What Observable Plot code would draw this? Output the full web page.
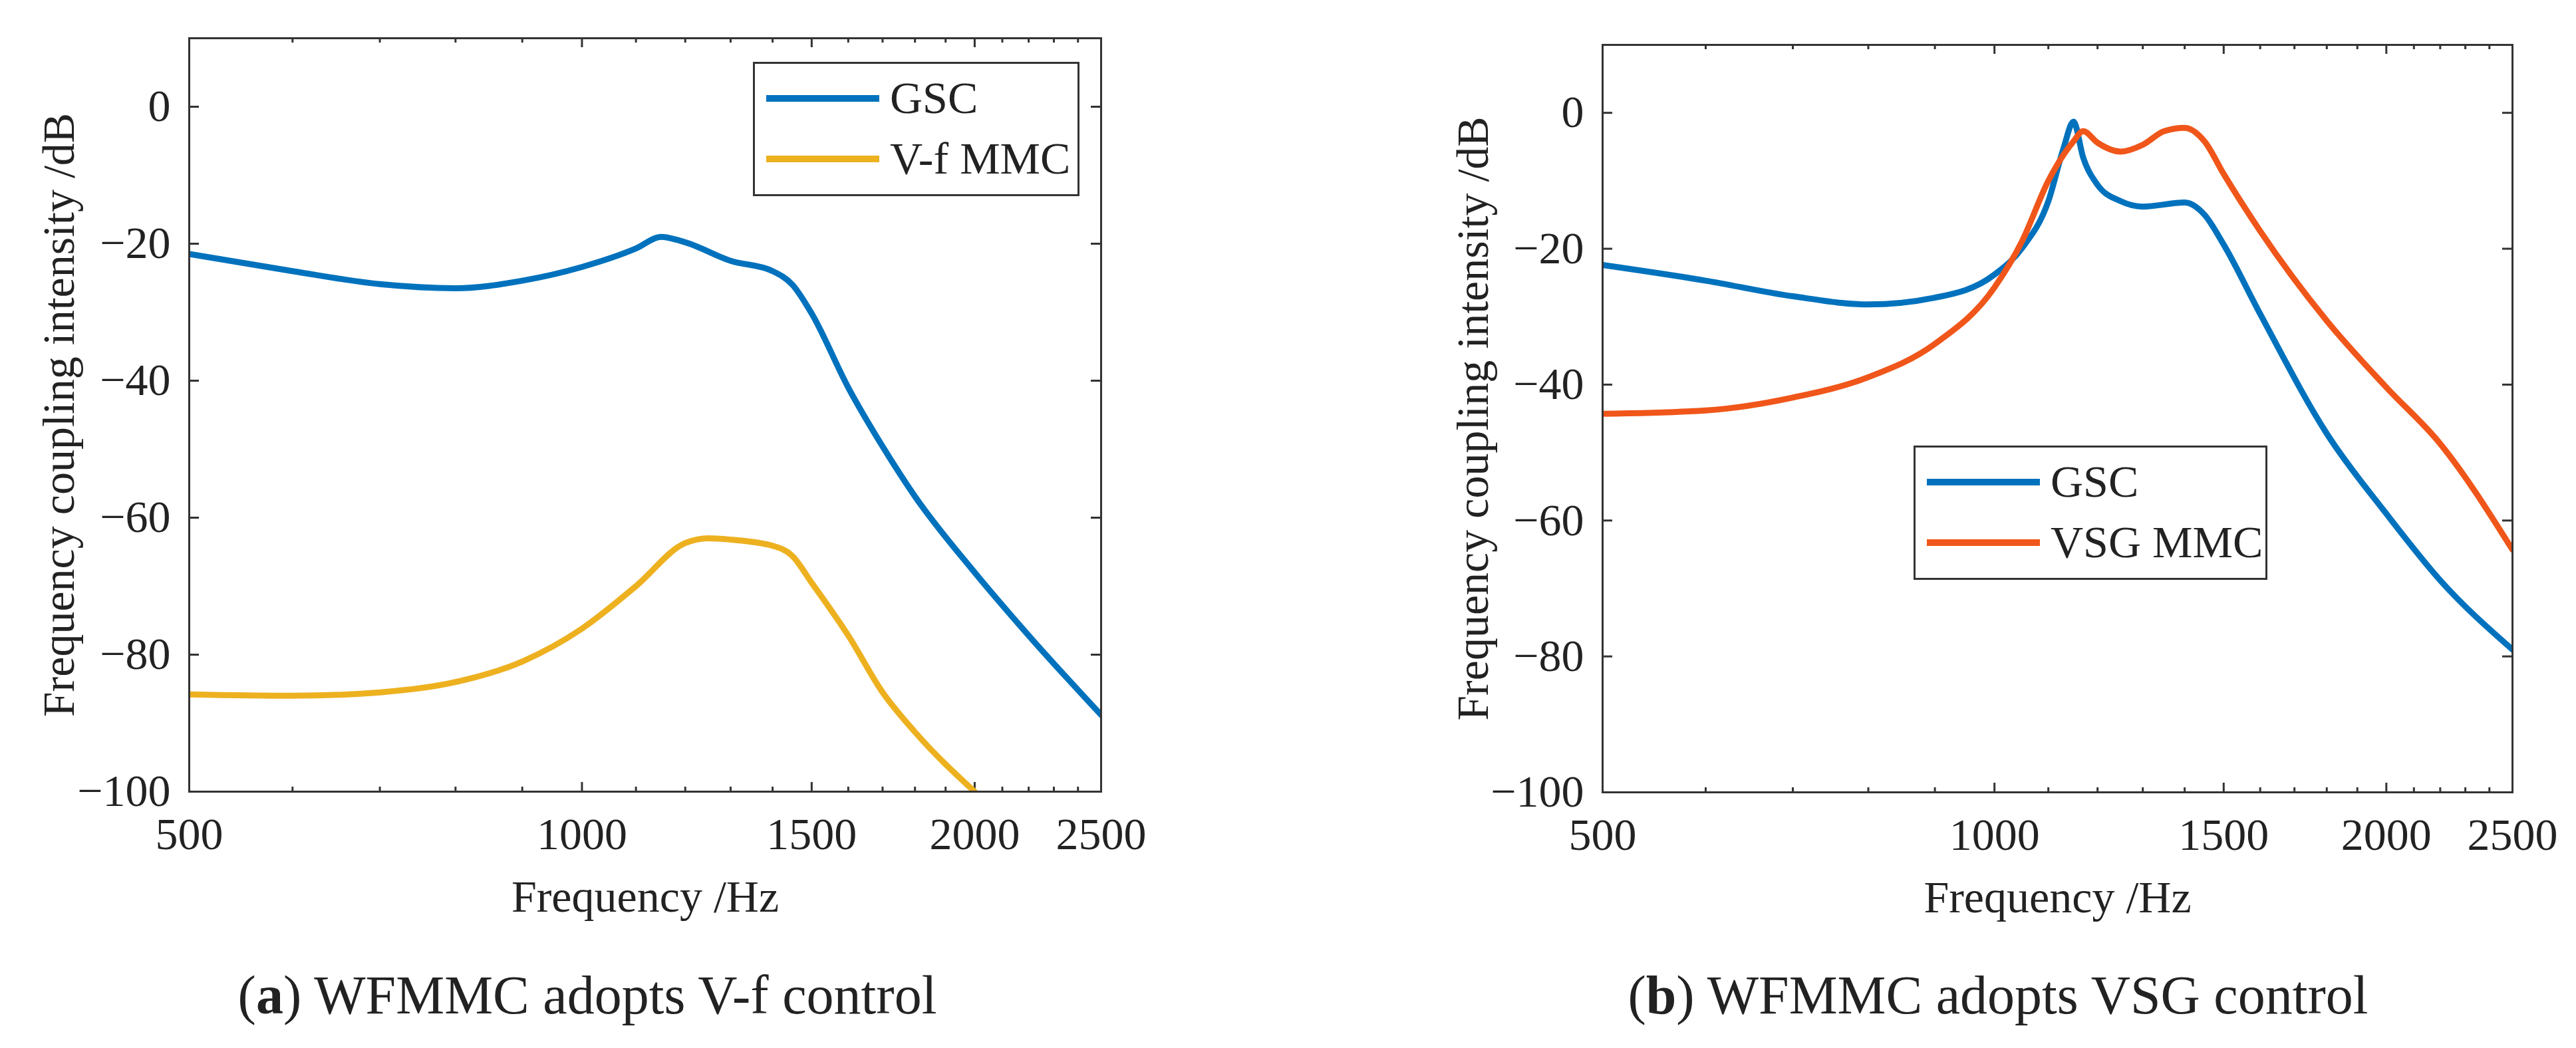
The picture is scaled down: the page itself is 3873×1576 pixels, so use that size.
<!DOCTYPE html>
<html><head><meta charset="utf-8">
<script src="https://cdn.jsdelivr.net/npm/d3@7"></script>
<script src="https://cdn.jsdelivr.net/npm/@observablehq/plot@0.6"></script>
<style>
body{margin:0;background:#fff;width:3873px;height:1576px;position:relative;overflow:hidden;font-family:"Liberation Serif",serif;color:#222}
.panel{position:absolute;top:0}
.leg{position:absolute;border:3px solid #333;background:#fff;font-size:68px}
.leg div{position:absolute;white-space:nowrap}
.leg span{position:absolute;height:10px}
.cap{position:absolute;font-size:82px;white-space:nowrap;transform:translateX(-50%);top:1450px}
</style></head><body>
<script>
const freqA = [500,600,700,800,900,1000,1100,1150,1200,1300,1400,1450,1500,1600,1700,1800,2000,2200,2500];
const gscA  = [-21.5,-24,-25.9,-26.5,-25.4,-23.4,-20.7,-19,-19.8,-22.5,-24,-26,-30.2,-41,-49.6,-56.9,-68,-77.2,-88.8];
const freqVf = [500,600,700,800,900,1000,1100,1200,1250,1300,1400,1450,1500,1600,1700,1800,2000];
const vfMMC = [-85.8,-86,-85.5,-84,-81,-76.2,-70,-63.7,-63,-63.2,-64.1,-65.6,-69.5,-77.2,-85.5,-91.3,-100];
const freqB = [500,600,700,800,900,1000,1050,1100,1130,1150,1170,1200,1250,1300,1400,1450,1500,1600,1800,2000,2200,2500];
const gscB  = [-22.4,-24.7,-27,-28.2,-27.2,-23.8,-19.9,-13,-5.2,-1.3,-6.6,-10.6,-13,-13.8,-13.2,-15,-19.4,-29.6,-47.2,-59,-68.8,-79];
const freqV = [500,600,700,800,900,1000,1050,1100,1150,1170,1200,1250,1300,1350,1400,1450,1500,1600,1800,2000,2200,2500];
const vsgMMC = [-44.3,-43.8,-41.9,-38.9,-34,-25.7,-18.9,-10,-4.2,-2.7,-4.4,-5.7,-4.7,-2.7,-2.2,-4.2,-9,-17.4,-30.6,-40.4,-48.7,-64.3];
const xMajor = [500,1000,1500,2000,2500];
const xMinor = [600,700,800,900,1100,1200,1300,1400,1600,1700,1800,1900,2100,2200,2300,2400];
const yTicks = [-100,-80,-60,-40,-20,0];
const BLUE="#0072BD", YEL="#EDB120", ORA="#F0561A";

function panel(series, m, offsetX){
  const plotW = 1936 - m.left - m.right, plotH = 1576 - m.top - m.bottom;
  const dbPerPx = 110/plotH;
  const xs = d3.scaleLog().domain([500,2500]).range([0,plotW]);
  const xAt = px => xs.invert(px);
  const marks = [];
  for (const [x, d] of [[xMajor,14],[xMinor,7]]) {
    marks.push(Plot.ruleX(x,{x:v=>v,y1:-100,y2:-100+d*dbPerPx,stroke:"#333",strokeWidth:3}));
    marks.push(Plot.ruleX(x,{x:v=>v,y1:10,y2:10-d*dbPerPx,stroke:"#333",strokeWidth:3}));
  }
  marks.push(Plot.ruleY(yTicks,{y:v=>v,x1:500,x2:xAt(15),stroke:"#333",strokeWidth:3}));
  marks.push(Plot.ruleY(yTicks,{y:v=>v,x1:xAt(plotW-15),x2:2500,stroke:"#333",strokeWidth:3}));
  for (const s of series) {
    marks.push(Plot.line(s.x.map((f,i)=>({f,v:s.y[i]})),{x:"f",y:"v",stroke:s.c,strokeWidth:9,curve:"monotone-x",clip:true}));
  }
  marks.push(Plot.frame({stroke:"#333",strokeWidth:3}));
  marks.push(Plot.axisX({ticks:xMajor,tickSize:0,tickPadding:38,tickFormat:d=>String(d),fontSize:68,label:"Frequency /Hz",labelAnchor:"center",labelArrow:"none",labelOffset:180}));
  marks.push(Plot.axisY({ticks:yTicks,tickSize:0,tickPadding:28,tickFormat:d=>d<0?"\u2212"+(-d):String(d),fontSize:68,label:"Frequency coupling intensity /dB",labelAnchor:"center",labelArrow:"none",labelOffset:m.left-offsetX-12}));
  const svg = Plot.plot({width:1936,height:1576,marginLeft:m.left,marginRight:m.right,marginTop:m.top,marginBottom:m.bottom,
    x:{type:"log",domain:[500,2500]},y:{domain:[-100,10]},
    style:{fontFamily:"Liberation Serif, serif",fontSize:"68px",color:"#222",background:"transparent"},
    marks});
  return svg;
}
function place(el,left){const d=document.createElement("div");d.className="panel";d.style.left=left+"px";d.appendChild(el);document.body.appendChild(d);}
place(panel([{x:freqA,y:gscA,c:BLUE},{x:freqVf,y:vfMMC,c:YEL}],{left:284,right:281,top:57,bottom:386},50),0);
place(panel([{x:freqB,y:gscB,c:BLUE},{x:freqV,y:vsgMMC,c:ORA}],{left:473,right:95,top:67,bottom:385},240),1936);

function legend(left,top,w,h,items){
  const L=document.createElement("div");L.className="leg";
  Object.assign(L.style,{left:left+"px",top:top+"px",width:w+"px",height:h+"px"});
  items.forEach((it,i)=>{
    const cy=[52,143][i];
    const s=document.createElement("span");Object.assign(s.style,{left:"17px",width:"170px",top:(cy-5)+"px",background:it.c});L.appendChild(s);
    const t=document.createElement("div");t.textContent=it.t;Object.assign(t.style,{left:"203px",top:(cy-40)+"px"});L.appendChild(t);
  });
  document.body.appendChild(L);
}
legend(1132,93,485,196,[{t:"GSC",c:BLUE},{t:"V-f MMC",c:YEL}]);
legend(2877,670,526,196,[{t:"GSC",c:BLUE},{t:"VSG MMC",c:ORA}]);
function cap(x,b,rest){const c=document.createElement("div");c.className="cap";c.style.left=x+"px";c.innerHTML="(<b>"+b+"</b>) "+rest;document.body.appendChild(c);}
cap(883,"a","WFMMC adopts V-f control");
cap(3004,"b","WFMMC adopts VSG control");
</script>
</body></html>
